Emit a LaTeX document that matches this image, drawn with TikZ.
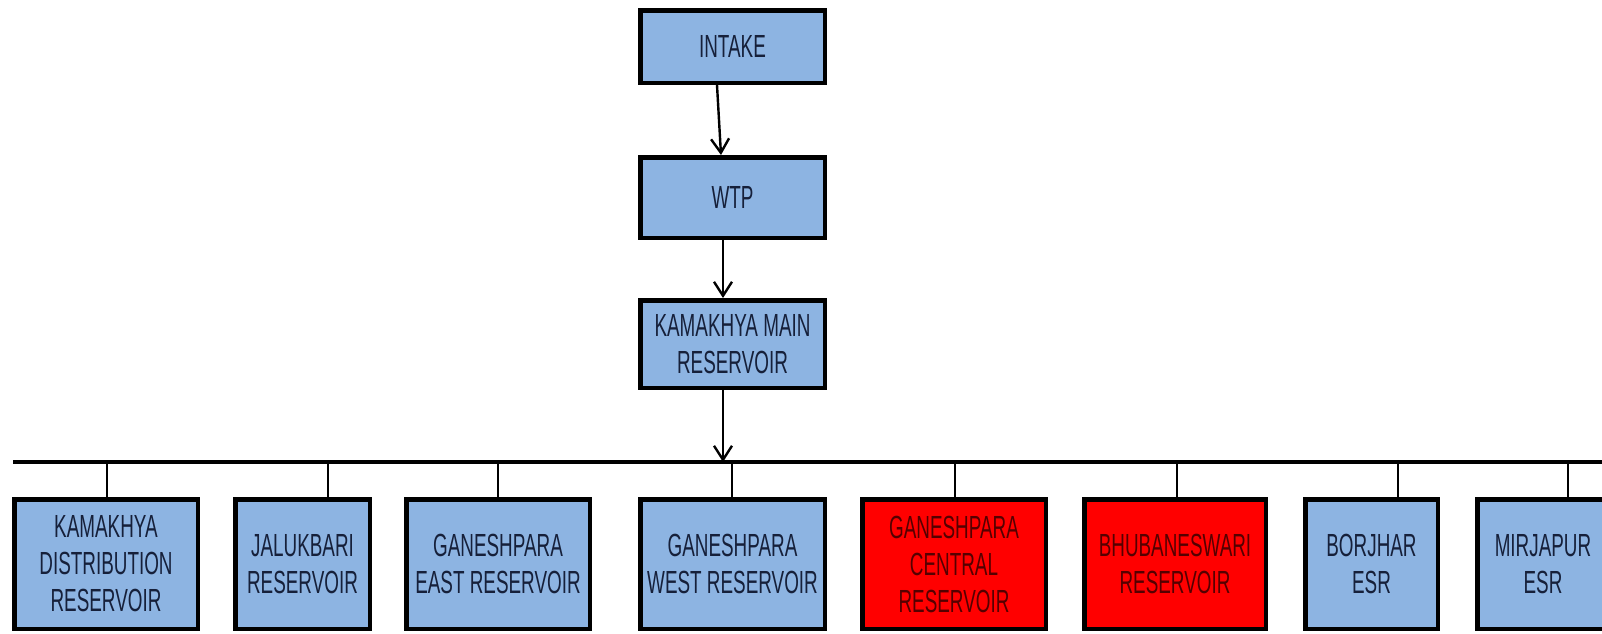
\documentclass[tikz,border=0pt]{standalone}
\usepackage{fontspec}
\newfontfamily\narrowfont[FakeStretch=0.59]{Liberation Sans}
\usetikzlibrary{arrows.meta,calc}
\definecolor{boxblue}{RGB}{141,180,226}
\definecolor{boxred}{RGB}{255,0,0}
\definecolor{txtblue}{RGB}{22,32,58}
\definecolor{txtred}{RGB}{85,0,0}
\tikzset{
  box/.style={draw=black, line width=2.25pt, fill=boxblue, text=txtblue, inner sep=0pt,
    align=center, font=\narrowfont\fontsize{16}{18.5}\selectfont},
  redbox/.style={box, fill=boxred, text=txtred},
  topbox/.style={minimum width=92.25pt},
  lowbox/.style={minimum height=64.75pt},
  flow/.style={line width=1.2pt, -{Straight Barb[length=7pt,width=9pt,line width=1.2pt]}},
  tap/.style={line width=1.2pt},
  bus/.style={line width=1.8pt}
}
\begin{document}
\begin{tikzpicture}[x=0.5pt,y=-0.5pt]
\useasboundingbox (0,0) rectangle (1602,633);
\clip (0,0) rectangle (1602,633);
\fill[white] (0,0) rectangle (1602,633);

% top chain
\node[box,topbox,minimum height=36.25pt] (intake) at (732.5,46.5) {INTAKE};
\node[box,topbox,minimum height=40.25pt] (wtp) at (732.5,197.5) {WTP};
\node[box,topbox,minimum height=43.75pt] (kmr) at (732.5,344) {KAMAKHYA MAIN\\RESERVOIR};

% bus
\coordinate (busL) at (13,462);
\coordinate (busR) at (1602,462);
\coordinate (busIn) at (723,462);
\draw[bus] (busL) -- (busR);

% bottom boxes
\node[box,lowbox,minimum width=91.75pt] (kd) at (106,564) {KAMAKHYA\\DISTRIBUTION\\RESERVOIR};
\node[box,lowbox,minimum width=67.25pt] (jal) at (302.5,564) {JALUKBARI\\RESERVOIR};
\node[box,lowbox,minimum width=91.75pt] (ge) at (498,564) {GANESHPARA\\EAST RESERVOIR};
\node[box,lowbox,minimum width=92.25pt] (gw) at (732.5,564) {GANESHPARA\\WEST RESERVOIR};
\node[redbox,lowbox,minimum width=91.75pt] (gc) at (954,564) {GANESHPARA\\CENTRAL\\RESERVOIR};
\node[redbox,lowbox,minimum width=90.75pt] (bh) at (1175,564) {BHUBANESWARI\\RESERVOIR};
\node[box,lowbox,minimum width=66.25pt] (bor) at (1371.5,564) {BORJHAR\\ESR};
\node[box,lowbox,minimum width=65.75pt] (mir) at (1543,564) {MIRJAPUR\\ESR};

% flow arrows
\draw[flow] ([xshift=-7.75pt]intake.south) -- ([xshift=-5.75pt]wtp.north);
\draw[flow] ([xshift=-4.75pt]wtp.south) -- ([xshift=-4.75pt]kmr.north);
\draw[flow] (busIn |- kmr.south) -- (busIn);

% taps
\coordinate (tkd) at (107,462);
\coordinate (tjal) at (328,462);
\coordinate (tge) at (498,462);
\coordinate (tgw) at (732,462);
\coordinate (tgc) at (955,462);
\coordinate (tbh) at (1177,462);
\coordinate (tbor) at (1398,462);
\coordinate (tmir) at (1568,462);
\draw[tap] (tkd) -- (tkd |- kd.north);
\draw[tap] (tjal) -- (tjal |- jal.north);
\draw[tap] (tge) -- (tge |- ge.north);
\draw[tap] (tgw) -- (tgw |- gw.north);
\draw[tap] (tgc) -- (tgc |- gc.north);
\draw[tap] (tbh) -- (tbh |- bh.north);
\draw[tap] (tbor) -- (tbor |- bor.north);
\draw[tap] (tmir) -- (tmir |- mir.north);
\end{tikzpicture}
\end{document}
